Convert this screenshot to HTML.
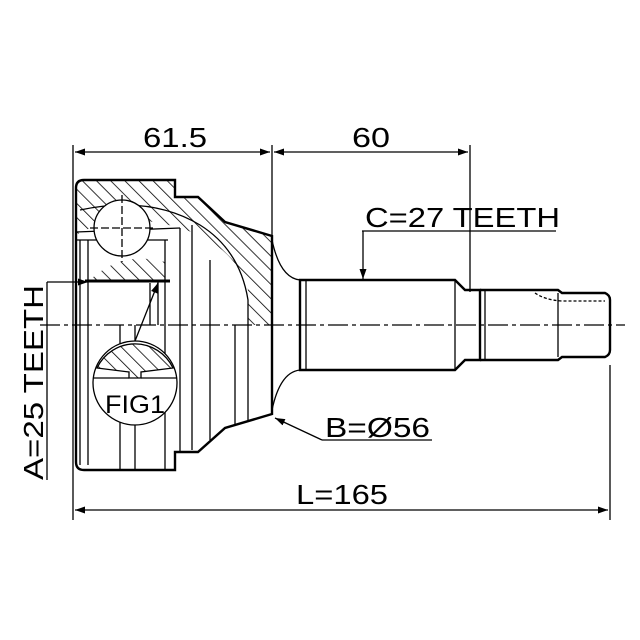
<!DOCTYPE html>
<html><head><style>html,body{margin:0;padding:0;background:#fff}svg{display:block}</style></head><body>
<svg width="640" height="640" viewBox="0 0 640 640" xmlns="http://www.w3.org/2000/svg" font-family="Liberation Sans, sans-serif">
<defs>
<pattern id="h" patternUnits="userSpaceOnUse" width="10" height="10" patternTransform="rotate(-45)"><line x1="0" y1="0" x2="0" y2="10" stroke="#000" stroke-width="1.6"/></pattern>
<marker id="ar" viewBox="0 0 10 10" refX="10" refY="5" markerWidth="10" markerHeight="10" orient="auto-start-reverse" markerUnits="userSpaceOnUse"><path d="M0,1.5 L10,5 L0,8.5 z" fill="#000"/></marker>
</defs>
<rect width="640" height="640" fill="#fff"/>
<g stroke="#000" fill="none" stroke-width="1.3">
<line x1="73" y1="145" x2="73" y2="520"/>
<line x1="272" y1="145" x2="272" y2="236"/>
<line x1="470" y1="145" x2="470" y2="292"/>
<line x1="610" y1="365" x2="610" y2="520"/>
<line x1="75" y1="152" x2="270" y2="152" marker-start="url(#ar)" marker-end="url(#ar)"/>
<line x1="274" y1="152" x2="468" y2="152" marker-start="url(#ar)" marker-end="url(#ar)"/>
<line x1="75" y1="510" x2="608" y2="510" marker-start="url(#ar)" marker-end="url(#ar)"/>
<path d="M76,188 Q76,180 84,180 L175,180 L175,197 L198,197 L225,222 L272,236 L272,325 L248,325 L248,290 Q235,245 180,228 Q120,210 76,235 Z" fill="url(#h)" stroke="none"/>
<path d="M90,280 Q122,250 165,262 L165,280 Z" fill="url(#h)" stroke="none"/>
<path d="M76,188 Q76,180 84,180 L175,180 L175,197 L198,197 L225,222 L272,236 L272,414 L225,428 L198,452 L175,452 L175,470 L84,470 Q76,470 76,462 Z" stroke-width="2.4"/>
<line x1="76" y1="240" x2="168" y2="240"/><line x1="76" y1="232" x2="180" y2="228"/>
<path d="M80,210 Q150,195 200,225 Q240,250 248,300 L248,325"/>
<line x1="80" y1="240" x2="80" y2="465"/><line x1="88" y1="240" x2="88" y2="465"/>
<line x1="165" y1="240" x2="165" y2="470"/><line x1="180" y1="228" x2="180" y2="452"/>
<line x1="192" y1="225" x2="192" y2="450"/><line x1="210" y1="260" x2="210" y2="440"/>
<line x1="235" y1="325" x2="235" y2="425"/><line x1="248" y1="325" x2="248" y2="420"/>
<line x1="120" y1="325" x2="120" y2="470"/><line x1="135" y1="325" x2="135" y2="470"/>
<line x1="158" y1="280" x2="158" y2="325"/><line x1="150" y1="283" x2="150" y2="325"/>
<line x1="85" y1="281" x2="170" y2="281" stroke-width="3"/>
<circle cx="122" cy="228" r="28" fill="#fff"/>
<line x1="122" y1="195" x2="122" y2="262" stroke-dasharray="8,3"/>
<line x1="90" y1="228" x2="155" y2="228" stroke-dasharray="8,3"/>
<circle cx="135" cy="383" r="42" fill="#fff"/>
<path d="M97,368 A42,42 0 0 1 173,368 L141,372 L141,378 L129,378 L129,372 Z" fill="url(#h)"/>
<line x1="93" y1="378" x2="129" y2="378"/><line x1="141" y1="378" x2="177" y2="378"/>
<line x1="135" y1="341" x2="158" y2="283" marker-end="url(#ar)"/>
<path d="M272,240 Q280,278 300,280 M272,410 Q280,372 300,370"/>
<path d="M300,280 L455,280 L465,290 L480,290 L480,360 L465,360 L455,370 L300,370 Z" stroke-width="2.4"/>
<line x1="306" y1="281" x2="306" y2="369"/><line x1="455" y1="281" x2="455" y2="369"/>
<path d="M480,290 L558,290 L562,293 L605,293 Q610,295 610,300 L610,350 Q610,355 605,357 L562,357 L558,360 L480,360" stroke-width="2.4"/>
<line x1="558" y1="293" x2="558" y2="357"/>
<line x1="485" y1="291" x2="485" y2="359"/>
<path d="M535,293 Q545,300 562,301 L605,301" stroke-dasharray="3,2"/>
<line x1="40" y1="325" x2="625" y2="325" stroke-dasharray="20,4,4,4"/>
<line x1="47" y1="282" x2="88" y2="282" marker-end="url(#ar)"/>
<line x1="47" y1="282" x2="47" y2="480"/>
<line x1="362" y1="231" x2="556" y2="231"/>
<line x1="363" y1="231" x2="363" y2="279" marker-end="url(#ar)"/>
<line x1="322" y1="440" x2="432" y2="440"/>
<line x1="322" y1="440" x2="275" y2="418" marker-end="url(#ar)"/>
</g>
<g font-size="28" fill="#000">
<text x="143" y="147" textLength="64" lengthAdjust="spacingAndGlyphs">61.5</text>
<text x="352" y="147" textLength="38" lengthAdjust="spacingAndGlyphs">60</text>
<text x="365" y="227" textLength="195" lengthAdjust="spacingAndGlyphs">C=27 TEETH</text>
<text x="325" y="437" textLength="105" lengthAdjust="spacingAndGlyphs">B=Ø56</text>
<text x="296" y="504" textLength="92" lengthAdjust="spacingAndGlyphs">L=165</text>
<text x="105" y="413" font-size="25" textLength="60" lengthAdjust="spacingAndGlyphs">FIG1</text>
<text transform="translate(43,480) rotate(-90)" textLength="195" lengthAdjust="spacingAndGlyphs">A=25 TEETH</text>
</g>
</svg>
</body></html>
